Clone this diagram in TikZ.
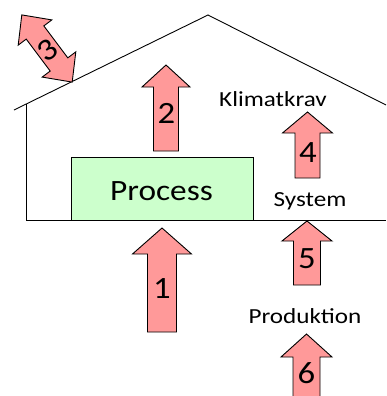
\documentclass[tikz,border=0pt]{standalone}
\usepackage{fontspec}
\setmainfont{Carlito}
\tikzset{
  outline/.style={draw=black, line width=0.9pt},
  blockarrow/.style={outline, fill=arrowred, line join=miter},
  numlabel/.style={inner sep=0pt, anchor=base, xscale=1.12, font=\fontsize{31}{33}\selectfont},
  tag/.style={inner sep=0pt, anchor=base, xscale=1.17, font=\fontsize{21.5}{23}\selectfont}
}
\definecolor{arrowred}{HTML}{FF9999}
\definecolor{boxgreen}{HTML}{CCFFCC}
% upward block arrow: centre x, tip y, head base y, bottom y, head half width, shaft half width
\newcommand\uparrowblock[6]{%
  \draw[blockarrow] (#1-#6,#4) -- (#1-#6,#3) -- (#1-#5,#3) -- (#1,#2)
    -- (#1+#5,#3) -- (#1+#6,#3) -- (#1+#6,#4) -- cycle;}
\begin{document}
\begin{tikzpicture}[x=1pt, y=-1pt]
  \useasboundingbox (0,0) rectangle (386,396);

  % house outline
  \coordinate (eaveL) at (14,110);
  \coordinate (apex) at (208,15);
  \coordinate (eaveR) at (386,105);
  \coordinate (wallTop) at (26,104.1);
  \coordinate (wallFoot) at (26,220);
  \coordinate (groundR) at (386,220);
  \draw[outline] (eaveL) -- (apex) -- (eaveR);
  \draw[outline] (wallTop) -- (wallFoot) -- (groundR);

  % process box
  \node[outline, fill=boxgreen, minimum width=182pt, minimum height=63pt,
        inner sep=0pt] (process) at (162,188.5) {};
  \node[inner sep=0pt, anchor=base, xscale=1.13, font=\fontsize{29.5}{31}\selectfont]
    (processtext) at (161.5,200) {Process};

  % heat flows
  \uparrowblock{162}{228}{254}{332}{29.5}{14.5}
  \node[numlabel] (n1) at (162,298) {1};
  \uparrowblock{166}{65}{87}{151}{24}{12.5}
  \node[numlabel] (n2) at (166.5,123) {2};
  \uparrowblock{307.5}{112}{133}{178}{25}{12.5}
  \node[numlabel] (n4) at (308,162) {4};
  \uparrowblock{307}{221}{241}{285}{25}{13.5}
  \node[numlabel] (n5) at (307,268) {5};
  \uparrowblock{306.5}{334}{357}{400}{25.5}{13.5}
  \node[numlabel] (n6) at (306.5,383) {6};

  % exchange through the roof
  \begin{scope}[shift={(47,48.5)}, rotate=-53.13]
    \draw[blockarrow] (-42,0) -- (-20,21) -- (-20,11) -- (20,11) -- (20,21)
      -- (42,0) -- (20,-21) -- (20,-11) -- (-20,-11) -- (-20,-21) -- cycle;
  \end{scope}
  \node[inner sep=0pt, rotate=36.87, xscale=1.12, font=\fontsize{31}{33}\selectfont]
    (n3) at (48,50) {3};

  % level labels
  \node[tag] (klimat) at (273,106) {Klimatkrav};
  \node[tag] (system) at (310,206) {System};
  \node[tag] (prod) at (305,323) {Produktion};
\end{tikzpicture}
\end{document}
